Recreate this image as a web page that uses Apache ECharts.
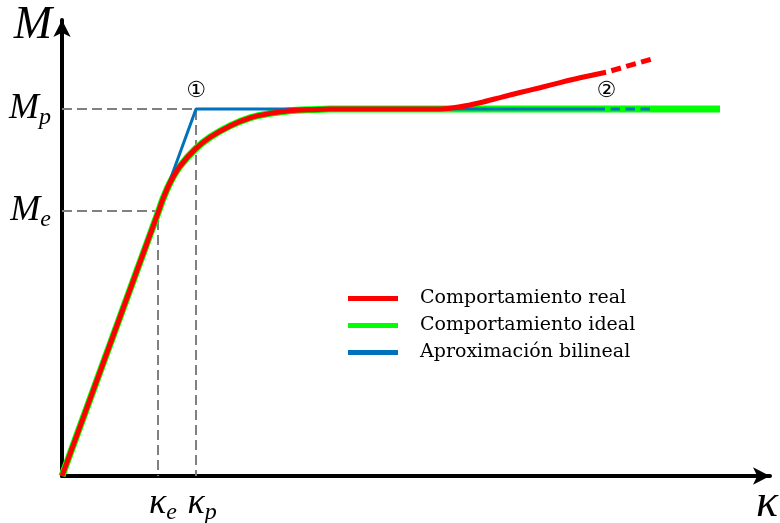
<!DOCTYPE html>
<html>
<head>
<meta charset="utf-8">
<script src="https://cdn.jsdelivr.net/npm/echarts@6/dist/echarts.min.js"></script>
<style>
  html, body { margin: 0; padding: 0; background: #fff; }
  #chart { width: 780px; height: 523px; }
</style>
</head>
<body>
<div id="chart"></div>
<script>
// Characteristic points of the moment–curvature diagram
const kappaE = 1.0;
const kappaP = 1.396;
const momentE = 0.722;
const momentP = 1.0;

// Ideal behaviour: elastic branch, smooth transition, plastic plateau
const idealKappa = [0, 1.0, 1.052, 1.125, 1.229, 1.385, 1.542, 1.75, 1.958, 2.167, 2.375, 2.583, 2.792, 6.854];
const idealMoment = [0, 0.717, 0.755, 0.799, 0.844, 0.890, 0.923, 0.954, 0.976, 0.988, 0.995, 0.998, 1.0, 1.0];

// Real behaviour: follows the ideal curve, then hardens
const realKappa = [0, 1.0, 1.052, 1.125, 1.229, 1.385, 1.542, 1.75, 1.958, 2.167, 2.375, 2.583, 2.792, 3.938, 4.146, 4.354, 4.563, 4.771, 4.979, 5.188, 5.396, 5.667];
const realMoment = [0, 0.717, 0.755, 0.799, 0.844, 0.890, 0.923, 0.954, 0.976, 0.988, 0.995, 0.998, 1.0, 1.0, 1.006, 1.017, 1.031, 1.045, 1.058, 1.072, 1.085, 1.100];
const realExtKappa = [5.667, 6.156];
const realExtMoment = [1.100, 1.137];

// Bilinear approximation
const bilinKappa = [0, 1.396, 5.656];
const bilinMoment = [0, 1.0, 1.0];
const bilinExtKappa = [5.656, 6.156];
const bilinExtMoment = [1.0, 1.0];

const legendNames = ['Comportamiento real', 'Comportamiento ideal', 'Aproximación bilineal'];

const RED = '#ff0000';
const GREEN = '#00ff00';
const BLUE = '#0072bd';
const GRAY = '#808080';

const zip = (xs, ys) => xs.map((x, i) => [x, ys[i]]);

const mathFont = 'Liberation Serif';
const mathRich = {
  a: { fontFamily: mathFont, fontStyle: 'italic', fontSize: 36, color: '#000' },
  b: { fontFamily: mathFont, fontStyle: 'italic', fontSize: 24, color: '#000', padding: [18, 0, 0, 0] }
};

const chart = echarts.init(document.getElementById('chart'), null, { renderer: 'canvas' });

const axisCommon = {
  type: 'value',
  min: 0,
  splitLine: { show: false },
  axisTick: { show: false },
  axisLabel: { show: false },
  axisLine: {
    show: true,
    onZero: false,
    symbol: ['none', 'arrow'],
    symbolSize: [13, 17],
    lineStyle: { color: '#000', width: 4 }
  }
};

chart.setOption({
  animation: false,
  backgroundColor: '#fff',
  grid: { left: 62, right: 10, top: 20, bottom: 47, containLabel: false, outerBoundsMode: 'none' },
  xAxis: Object.assign({}, axisCommon, {
    max: 7.375,
    name: 'κ',
    nameLocation: 'end',
    nameGap: -14,
    nameTextStyle: {
      fontFamily: mathFont, fontStyle: 'italic', fontSize: 46, color: '#000',
      align: 'left', verticalAlign: 'top', padding: [5, 0, 0, 0]
    }
  }),
  yAxis: Object.assign({}, axisCommon, {
    max: 1.2425,
    name: 'M',
    nameLocation: 'end',
    nameGap: -6,
    nameTextStyle: {
      fontFamily: mathFont, fontStyle: 'italic', fontSize: 46, color: '#000',
      align: 'right', verticalAlign: 'middle', padding: [0, 10, 0, 0]
    }
  }),
  legend: {
    data: legendNames,
    orient: 'vertical',
    left: 343,
    top: 284,
    itemWidth: 50,
    itemHeight: 5,
    itemGap: 8,
    icon: 'rect',
    textStyle: { fontFamily: 'DejaVu Serif', fontSize: 19, color: '#000', padding: [0, 0, 0, 17] }
  },
  series: [
    {
      type: 'line', name: 'guide-e', silent: true, symbol: 'none',
      data: [[0, momentE], [kappaE, momentE], [kappaE, 0]],
      lineStyle: { color: GRAY, width: 2, type: [10, 5] }, z: 1
    },
    {
      type: 'line', name: 'guide-p', silent: true, symbol: 'none',
      data: [[0, momentP], [kappaP, momentP], [kappaP, 0]],
      lineStyle: { color: GRAY, width: 2, type: [10, 5] }, z: 1
    },
    {
      type: 'line', name: legendNames[1], symbol: 'none', smooth: 0.25,
      data: zip(idealKappa, idealMoment),
      itemStyle: { color: GREEN },
      lineStyle: { color: GREEN, width: 7 }, z: 2
    },
    {
      type: 'line', name: legendNames[2], symbol: 'none',
      data: zip(bilinKappa, bilinMoment),
      itemStyle: { color: BLUE },
      lineStyle: { color: BLUE, width: 3 }, z: 3
    },
    {
      type: 'line', name: 'bilineal-ext', symbol: 'none',
      data: zip(bilinExtKappa, bilinExtMoment),
      lineStyle: { color: BLUE, width: 3, type: [9.5, 5.5], dashOffset: 9.5 }, z: 3
    },
    {
      type: 'line', name: legendNames[0], symbol: 'none', smooth: 0.25,
      data: zip(realKappa, realMoment),
      itemStyle: { color: RED },
      lineStyle: { color: RED, width: 5 }, z: 4
    },
    {
      type: 'line', name: 'real-ext', symbol: 'none',
      data: zip(realExtKappa, realExtMoment),
      lineStyle: { color: RED, width: 5, type: [10, 5.5], dashOffset: 10 }, z: 4
    },
    {
      // Moment and curvature markers on the axes, plus the point markers
      type: 'scatter', name: 'labels', silent: true, symbolSize: 0, z: 5,
      itemStyle: { opacity: 1, color: '#000' },
      data: [
        { value: [0, momentP], label: { position: 'left', distance: 11, formatter: '{a|M}{b|p}', rich: mathRich } },
        { value: [0, momentE], label: { position: 'left', distance: 11, formatter: '{a|M}{b|e}', rich: mathRich } },
        { value: [kappaE, 0], label: { position: 'bottom', distance: 7, offset: [5, 0], formatter: '{a|κ}{b|e}', rich: mathRich } },
        { value: [kappaP, 0], label: { position: 'bottom', distance: 7, offset: [6, 0], formatter: '{a|κ}{b|p}', rich: mathRich } },
        { value: [kappaP, momentP], label: { position: 'top', distance: 7, formatter: '①', fontFamily: 'DejaVu Sans', fontSize: 22, color: '#000' } },
        { value: [5.67, momentP], label: { position: 'top', distance: 7, formatter: '②', fontFamily: 'DejaVu Sans', fontSize: 22, color: '#000' } }
      ],
      label: { show: true, color: '#000', opacity: 1 }
    }
  ]
});
</script>
</body>
</html>
